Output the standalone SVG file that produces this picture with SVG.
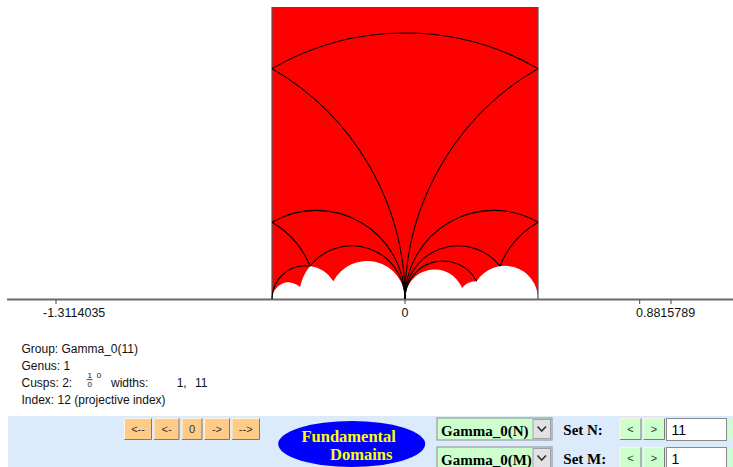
<svg xmlns="http://www.w3.org/2000/svg" width="733" height="467" viewBox="0 0 733 467">
<style>
  .info { font-family: "Liberation Sans", Arial, sans-serif; font-size: 12px; fill: #111; }
  .small { font-family: "Liberation Sans", Arial, sans-serif; font-size: 8px; fill: #111; }
  .tick { font-family: "Liberation Sans", Arial, sans-serif; font-size: 12.5px; fill: #111; }
  .edge { fill: none; stroke: #000; stroke-width: 1.1; }
  .side { fill: none; stroke: #555; stroke-width: 1.2; }
  .btnO { fill: #ffcc88; }
  .btnG { fill: #ccffcc; }
  .hi { fill: none; stroke: #fff4e0; stroke-width: 1; }
  .lo { fill: none; stroke: #7a7a7a; stroke-width: 1; }
  .btxt { font-family: "Liberation Sans", Arial, sans-serif; font-size: 11px; fill: #333; text-anchor: middle; }
  .ser { font-family: "Liberation Serif", "Times New Roman", serif; font-weight: bold; }
  .inp { fill: #fff; stroke: #8a8a8a; stroke-width: 1; }
  .itxt { font-family: "Liberation Sans", Arial, sans-serif; font-size: 14px; fill: #000; }
</style>

<!-- axis -->
<g id="axis">
  <line x1="7" y1="299.5" x2="733" y2="299.5" stroke="#6a6a6a" stroke-width="2"/>
  <g stroke="#444" stroke-width="1">
    <line x1="56" y1="300" x2="56" y2="304"/>
    <line x1="405" y1="300" x2="405" y2="304"/>
    <line x1="639.7" y1="300" x2="639.7" y2="304"/>
    <line x1="671" y1="300" x2="671" y2="304"/>
  </g>
  <text class="tick" x="43" y="316.5">-1.3114035</text>
  <text class="tick" x="405" y="316.5" text-anchor="middle">0</text>
  <text class="tick" x="636" y="316.5">0.8815789</text>
</g>

<!-- fundamental domain -->
<g id="domain">
  <path fill="#ff0000" d="M 272 7 L 538 7 L 538 299
    A 33.25 33.25 0 0 0 476.62 281.28
    A 17.733 17.733 0 0 0 462.0 288.03
    A 29.556 29.556 0 0 0 405 299
    A 38 38 0 0 0 333.38 281.28
    A 33.25 33.25 0 0 0 310.0 266.09
    A 53.2 53.2 0 0 0 300.0 286.88
    A 16.625 16.625 0 0 0 272 299 Z"/>
  <line class="side" x1="272" y1="7" x2="272" y2="299"/>
  <line class="side" x1="538" y1="7" x2="538" y2="299"/>
</g>

<g id="edges">
  <path class="edge" d="M 272 68.64 A 266 266 0 0 1 538 68.64"/>
  <path class="edge" d="M 272 68.64 A 266 266 0 0 1 405 299"/>
  <path class="edge" d="M 538 68.64 A 266 266 0 0 0 405 299"/>
  <path class="edge" d="M 272 222.21 A 88.667 88.667 0 0 1 405 299"/>
  <path class="edge" d="M 538 222.21 A 88.667 88.667 0 0 0 405 299"/>
  <path class="edge" d="M 272 222.21 A 88.667 88.667 0 0 1 310.0 266.09"/>
  <path class="edge" d="M 538 222.21 A 88.667 88.667 0 0 0 500.0 266.09"/>
  <path class="edge" d="M 310.0 266.09 A 53.2 53.2 0 0 1 405 299"/>
  <path class="edge" d="M 500.0 266.09 A 53.2 53.2 0 0 0 405 299"/>
  <path class="edge" d="M 272 299 A 33.25 33.25 0 0 1 310.0 266.09"/>
  <path class="edge" d="M 405 299 A 38 38 0 0 1 476.62 281.28"/>
</g>

<!-- info text -->
<g id="info">
  <text class="info" x="21.5" y="352.5">Group: Gamma_0(11)</text>
  <text class="info" x="21.5" y="369.5">Genus: 1</text>
  <text class="info" x="21.5" y="386.5">Cusps: 2:</text>
  <text class="small" x="87.5" y="378.3">1</text>
  <line x1="86.7" y1="379.6" x2="92.5" y2="379.6" stroke="#111" stroke-width="0.8"/>
  <text class="small" x="87.5" y="386.7">0</text>
  <text class="small" x="96.7" y="378.3">0</text>
  <text class="info" x="111" y="386.5">widths:</text>
  <text class="info" x="176.7" y="386.5">1,</text>
  <text class="info" x="195" y="386.5">11</text>
  <text class="info" x="21.5" y="403.5">Index: 12 (projective index)</text>
</g>

<!-- toolbar -->
<rect id="toolbar" x="8" y="416" width="725" height="51" fill="#dcebfb"/>

<g id="nav-buttons">
  <g id="btn-first">
    <rect class="btnO" x="124" y="418" width="28" height="22"/>
    <polyline class="hi" points="124.5,439.5 124.5,418.5 151.5,418.5"/>
    <polyline class="lo" points="124.5,439.5 151.5,439.5 151.5,418.5"/>
    <text class="btxt" x="138" y="433">&lt;--</text>
  </g>
  <g id="btn-prev">
    <rect class="btnO" x="153.5" y="418" width="26" height="22"/>
    <polyline class="hi" points="154,439.5 154,418.5 179,418.5"/>
    <polyline class="lo" points="154,439.5 179,439.5 179,418.5"/>
    <text class="btxt" x="166.5" y="433">&lt;-</text>
  </g>
  <g id="btn-zero">
    <rect class="btnO" x="181.5" y="418" width="21" height="22"/>
    <polyline class="hi" points="182,439.5 182,418.5 202,418.5"/>
    <polyline class="lo" points="182,439.5 202,439.5 202,418.5"/>
    <text class="btxt" x="192" y="433">0</text>
  </g>
  <g id="btn-next">
    <rect class="btnO" x="204" y="418" width="26" height="22"/>
    <polyline class="hi" points="204.5,439.5 204.5,418.5 229.5,418.5"/>
    <polyline class="lo" points="204.5,439.5 229.5,439.5 229.5,418.5"/>
    <text class="btxt" x="217" y="433">-&gt;</text>
  </g>
  <g id="btn-last">
    <rect class="btnO" x="231.5" y="418" width="28.5" height="22"/>
    <polyline class="hi" points="232,439.5 232,418.5 259.5,418.5"/>
    <polyline class="lo" points="232,439.5 259.5,439.5 259.5,418.5"/>
    <text class="btxt" x="245.7" y="433">--&gt;</text>
  </g>
</g>

<g id="fundamental-domains">
  <ellipse cx="351.7" cy="444" rx="73.5" ry="23" fill="#0000ff"/>
  <text class="ser" x="301.5" y="441.5" font-size="16.5" fill="#ffff00">Fundamental</text>
  <text class="ser" x="330" y="460" font-size="16.5" fill="#ffff00">Domains</text>
</g>

<g id="select-n">
  <rect x="437" y="418" width="115" height="22" fill="#ccffcc" stroke="#8a8a8a"/>
  <rect x="533" y="419.5" width="17.5" height="19" fill="#e2e2e6" stroke="#a0a0a8"/>
  <polyline points="537.5,426.5 541.7,431 546,426.5" fill="none" stroke="#333" stroke-width="1.6"/>
  <text class="ser" x="441" y="435.7" font-size="15" fill="#000">Gamma_0(N)</text>
</g>
<g id="select-m">
  <rect x="437" y="447" width="115" height="22" fill="#ccffcc" stroke="#8a8a8a"/>
  <rect x="533" y="448.5" width="17.5" height="19" fill="#e2e2e6" stroke="#a0a0a8"/>
  <polyline points="537.5,455.5 541.7,460 546,455.5" fill="none" stroke="#333" stroke-width="1.6"/>
  <text class="ser" x="441" y="464.7" font-size="15" fill="#000">Gamma_0(M)</text>
</g>

<g id="set-n">
  <text class="ser" x="563.3" y="435" font-size="15" fill="#000">Set N:</text>
  <g id="n-dec">
    <rect class="btnG" x="619.5" y="418" width="22" height="22"/>
    <polyline class="hi" points="620,439.5 620,418.5 641,418.5"/>
    <polyline class="lo" points="620,439.5 641,439.5 641,418.5"/>
    <text class="btxt" x="630.5" y="433">&lt;</text>
  </g>
  <g id="n-inc">
    <rect class="btnG" x="643" y="418" width="22" height="22"/>
    <polyline class="hi" points="643.5,439.5 643.5,418.5 664.5,418.5"/>
    <polyline class="lo" points="643.5,439.5 664.5,439.5 664.5,418.5"/>
    <text class="btxt" x="654" y="433">&gt;</text>
  </g>
  <rect class="inp" x="666.5" y="418.5" width="60" height="22"/>
  <text class="itxt" x="671.5" y="435">11</text>
  <rect class="btnG" x="728.5" y="418" width="5" height="22"/>
</g>

<g id="set-m">
  <text class="ser" x="563.3" y="464" font-size="15" fill="#000">Set M:</text>
  <g id="m-dec">
    <rect class="btnG" x="619.5" y="447" width="22" height="22"/>
    <polyline class="hi" points="620,468 620,447.5 641,447.5"/>
    <polyline class="lo" points="641,468 641,447.5"/>
    <text class="btxt" x="630.5" y="462">&lt;</text>
  </g>
  <g id="m-inc">
    <rect class="btnG" x="643" y="447" width="22" height="22"/>
    <polyline class="hi" points="643.5,468 643.5,447.5 664.5,447.5"/>
    <polyline class="lo" points="664.5,468 664.5,447.5"/>
    <text class="btxt" x="654" y="462">&gt;</text>
  </g>
  <rect class="inp" x="666.5" y="447.5" width="60" height="22"/>
  <text class="itxt" x="671.5" y="464">1</text>
  <rect class="btnG" x="728.5" y="447" width="5" height="22"/>
</g>
</svg>
